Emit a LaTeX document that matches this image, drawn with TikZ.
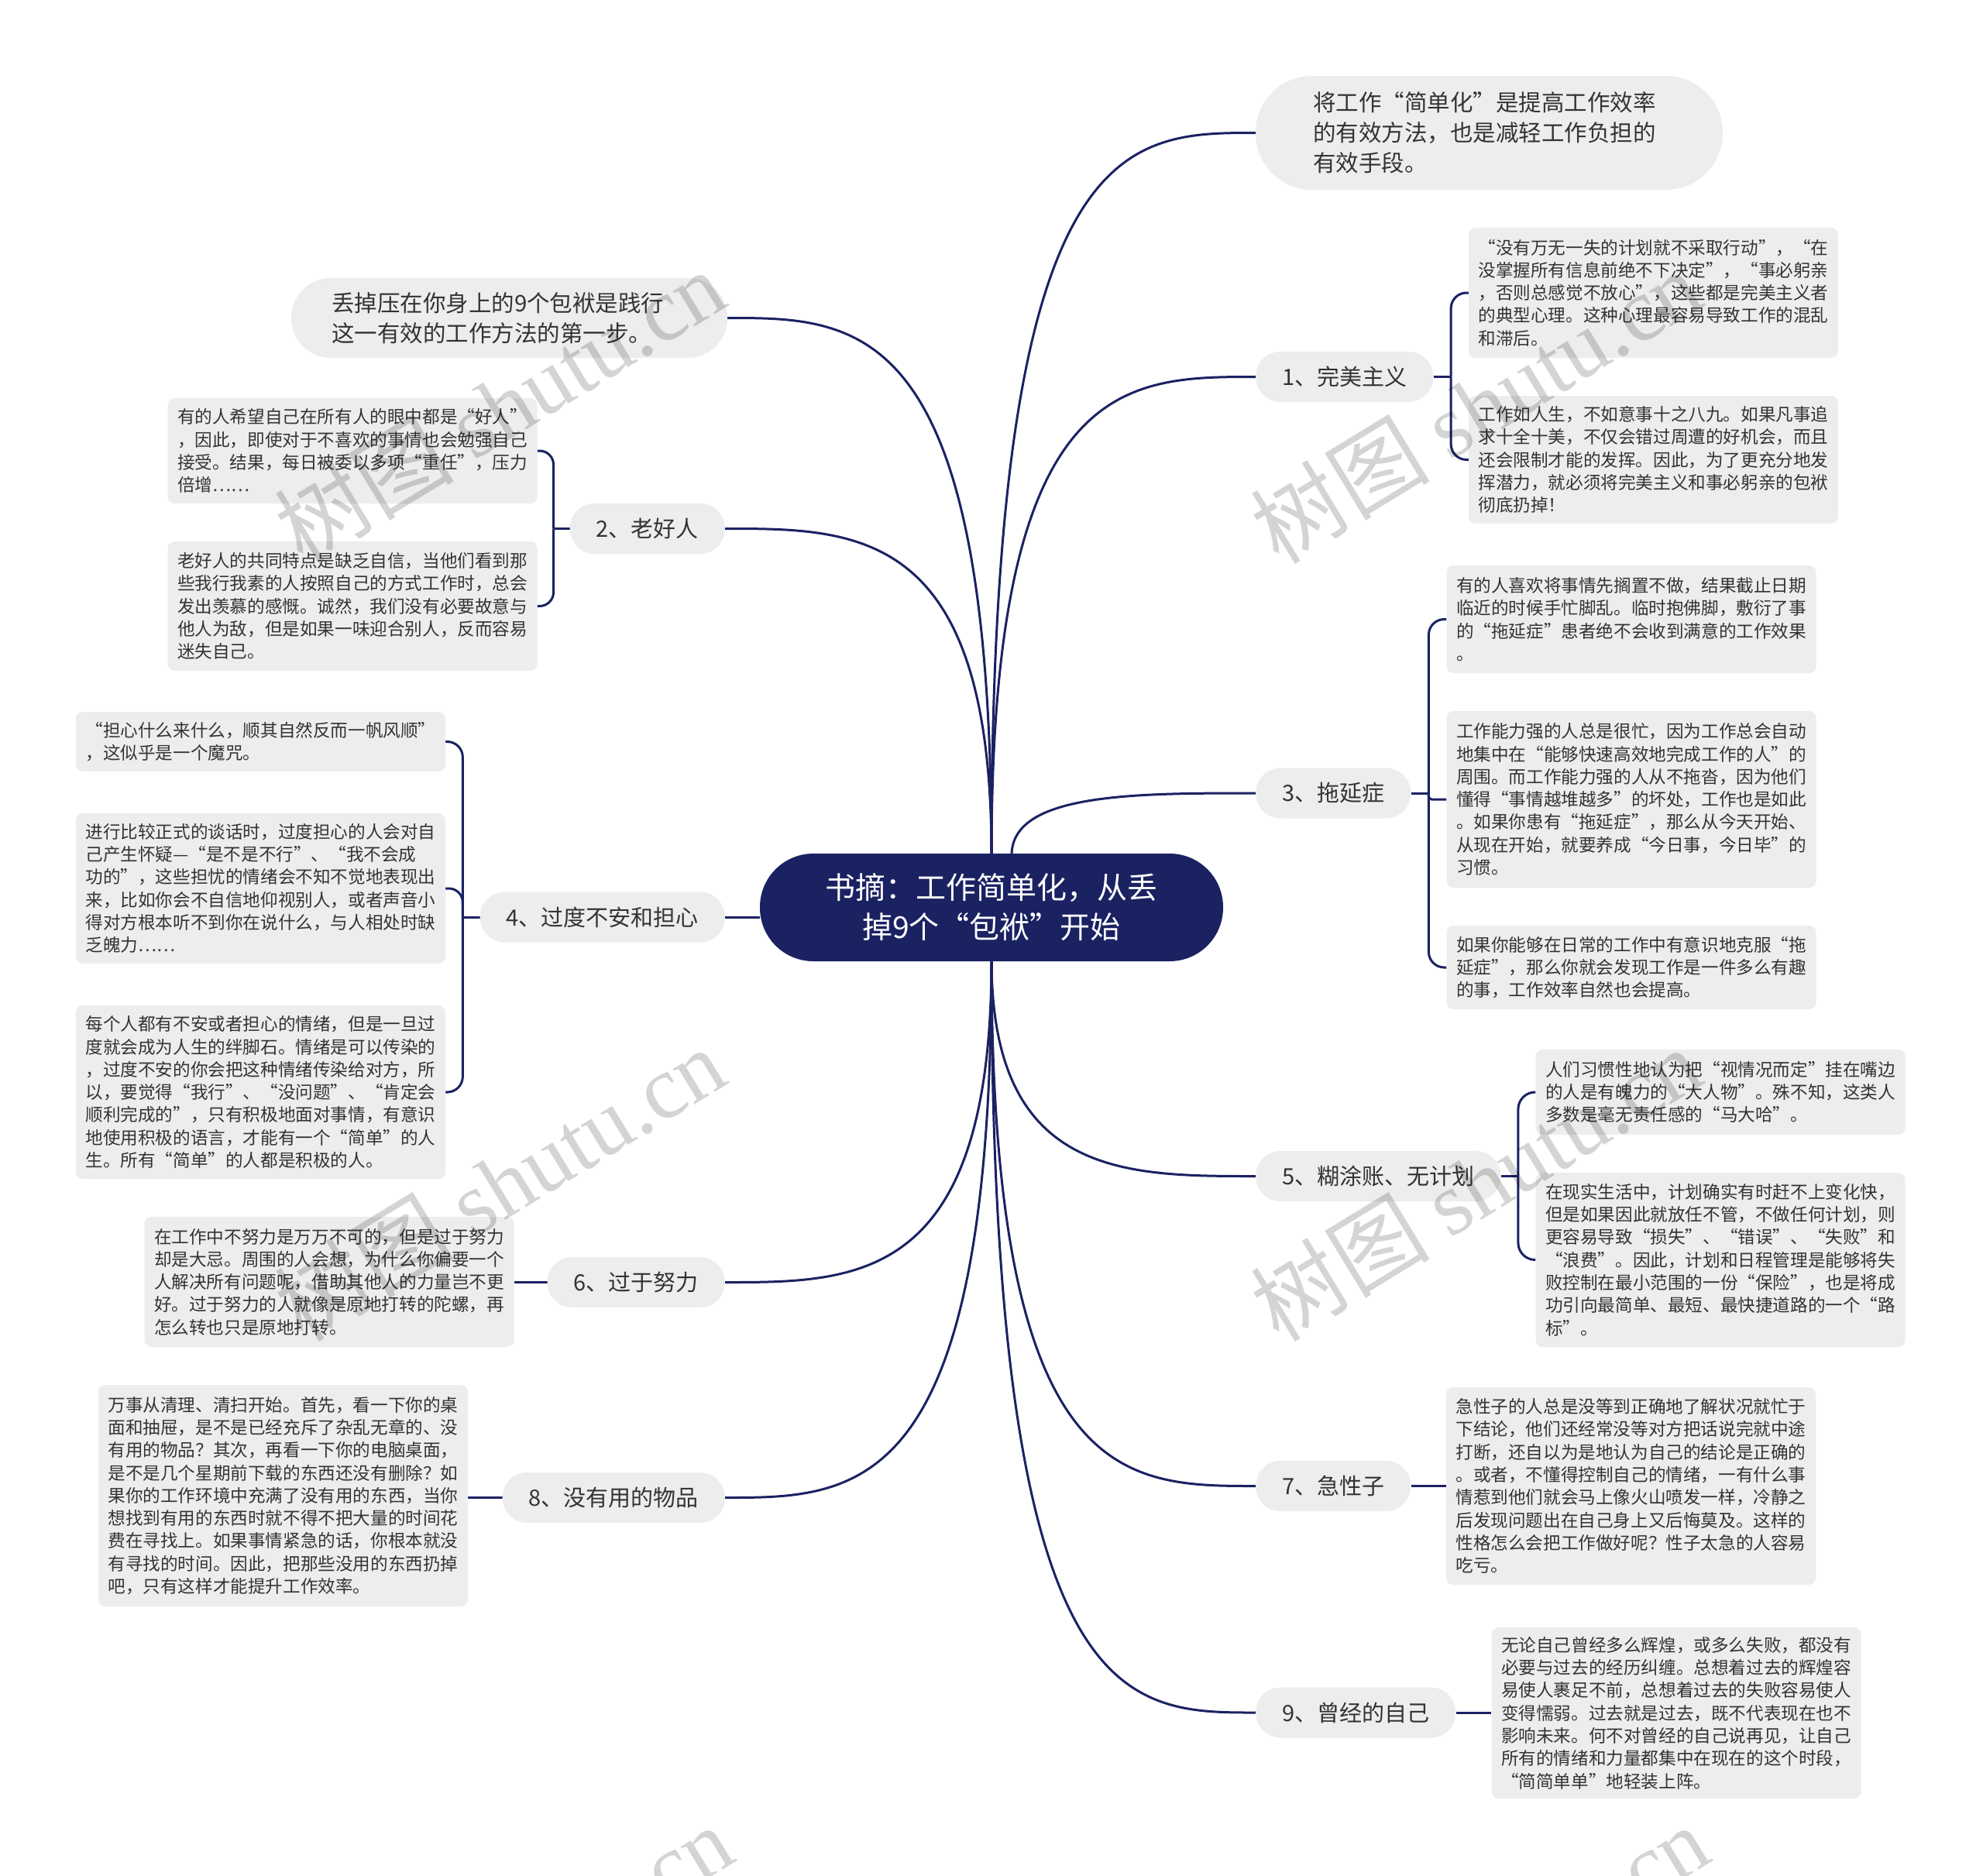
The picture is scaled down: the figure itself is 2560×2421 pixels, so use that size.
\documentclass[tikz,border=0pt]{standalone}
\usepackage{fontspec}
\setmainfont{Noto Sans CJK SC}
\newfontfamily\wmlatin{Liberation Serif}
\usetikzlibrary{calc,backgrounds}
\XeTeXlinebreaklocale "zh"
\XeTeXlinebreakskip=0pt plus 3pt
\XeTeXlinebreakpenalty=10000
\definecolor{navy}{HTML}{1B2262}
\definecolor{pill}{HTML}{EDEDED}
\definecolor{ink}{HTML}{333333}
\newcommand\mmleaffont{\fontsize{22.6pt}{29.3pt}\selectfont\parindent=0pt\relax}
\newcommand\mmbrfont{\fontsize{29pt}{36pt}\selectfont}
\newcommand\mmtpfont{\fontsize{29.5pt}{39pt}\selectfont}
\newcommand\mmrootfont{\fontsize{39pt}{51pt}\selectfont}
\tikzset{
  leaf/.style={fill=pill, rounded corners=9pt, text width=452pt, inner xsep=12.5pt, inner ysep=3pt, align=justify, font=\mmleaffont, text=ink},
  branch/.style={fill=pill, rounded corners=32pt, inner xsep=34pt, inner ysep=0pt, minimum height=65pt, font=\mmbrfont, text=ink},
  topic/.style={fill=pill, align=left, font=\mmtpfont, text=ink, inner ysep=0pt},
  conn/.style={draw=navy, line width=3pt},
  mm/.style={to path={.. controls (\tikztostart |- \tikztotarget) and ($(\tikztostart |- \tikztotarget)!0.5!(\tikztotarget)$) .. (\tikztotarget)}},
  wm/.style={rotate=31.4, text=black, text opacity=0.17, font=\fontsize{116pt}{116pt}\selectfont}
}
\begin{document}
\begin{tikzpicture}[x=1pt,y=-1pt]
\useasboundingbox (0,0) rectangle (2560,2421);

% root
\node[fill=navy, text=white, font=\mmrootfont, align=center, minimum width=598pt, minimum height=139pt, rounded corners=69pt, inner sep=0pt] (root) at (1280,1171.5) {书摘：工作简单化，从丢\\掉9个“包袱”开始};

% top topics
\node[topic, inner xsep=74pt, text width=455pt, minimum height=147pt, rounded corners=73pt] (tr) at (1922.5,171.5) {将工作“简单化”是提高工作效率\\的有效方法，也是减轻工作负担的\\有效手段。};
\node[topic, inner xsep=52pt, text width=459pt, minimum height=103pt, rounded corners=51pt] (tl) at (657.5,410.5) {丢掉压在你身上的9个包袱是践行\\这一有效的工作方法的第一步。};

% branches
\node[branch, anchor=west] (b1) at (1621,486.5) {1、完美主义};
\node[branch, anchor=east] (b2) at (936,682.5) {2、老好人};
\node[branch, anchor=west] (b3) at (1621,1024) {3、拖延症};
\node[branch, anchor=east] (b4) at (936,1184) {4、过度不安和担心};
\node[branch, anchor=west] (b5) at (1621,1518.5) {5、糊涂账、无计划};
\node[branch, anchor=east] (b6) at (936,1655.5) {6、过于努力};
\node[branch, anchor=west] (b7) at (1621,1918.5) {7、急性子};
\node[branch, anchor=east] (b8) at (936,1933.5) {8、没有用的物品};
\node[branch, anchor=west] (b9) at (1621,2211) {9、曾经的自己};

% leaves
\node[leaf, minimum height=168pt] (l1a) at (2134.5,378) {“没有万无一失的计划就不采取行动”，“在\linebreak
没掌握所有信息前绝不下决定”，“事必躬亲\linebreak
，否则总感觉不放心”，这些都是完美主义者\linebreak
的典型心理。这种心理最容易导致工作的混乱\linebreak
和滞后。};
\node[leaf, minimum height=165pt] (l1b) at (2134.5,593.5) {工作如人生，不如意事十之八九。如果凡事追\linebreak
求十全十美，不仅会错过周遭的好机会，而且\linebreak
还会限制才能的发挥。因此，为了更充分地发\linebreak
挥潜力，就必须将完美主义和事必躬亲的包袱\linebreak
彻底扔掉！};
\node[leaf, minimum height=136pt] (l2a) at (455,582) {有的人希望自己在所有人的眼中都是“好人”\linebreak
，因此，即使对于不喜欢的事情也会勉强自己\linebreak
接受。结果，每日被委以多项“重任”，压力\linebreak
倍增……};
\node[leaf, minimum height=167pt] (l2b) at (455,782.5) {老好人的共同特点是缺乏自信，当他们看到那\linebreak
些我行我素的人按照自己的方式工作时，总会\linebreak
发出羡慕的感慨。诚然，我们没有必要故意与\linebreak
他人为敌，但是如果一味迎合别人，反而容易\linebreak
迷失自己。};
\node[leaf, minimum height=139pt] (l3a) at (2106,799.5) {有的人喜欢将事情先搁置不做，结果截止日期\linebreak
临近的时候手忙脚乱。临时抱佛脚，敷衍了事\linebreak
的“拖延症”患者绝不会收到满意的工作效果\linebreak
。};
\node[leaf, minimum height=228pt] (l3b) at (2106,1032) {工作能力强的人总是很忙，因为工作总会自动\linebreak
地集中在“能够快速高效地完成工作的人”的\linebreak
周围。而工作能力强的人从不拖沓，因为他们\linebreak
懂得“事情越堆越多”的坏处，工作也是如此\linebreak
。如果你患有“拖延症”，那么从今天开始、\linebreak
从现在开始，就要养成“今日事，今日毕”的\linebreak
习惯。};
\node[leaf, minimum height=108pt] (l3c) at (2106,1249) {如果你能够在日常的工作中有意识地克服“拖\linebreak
延症”，那么你就会发现工作是一件多么有趣\linebreak
的事，工作效率自然也会提高。};
\node[leaf, minimum height=77pt] (l4a) at (336.5,957.5) {“担心什么来什么，顺其自然反而一帆风顺”\linebreak
，这似乎是一个魔咒。};
\node[leaf, minimum height=194pt] (l4b) at (336.5,1147) {进行比较正式的谈话时，过度担心的人会对自\linebreak
己产生怀疑—“是不是不行”、“我不会成\newline
功的”，这些担忧的情绪会不知不觉地表现出\linebreak
来，比如你会不自信地仰视别人，或者声音小\linebreak
得对方根本听不到你在说什么，与人相处时缺\linebreak
乏魄力……};
\node[leaf, minimum height=224pt] (l4c) at (336.5,1410) {每个人都有不安或者担心的情绪，但是一旦过\linebreak
度就会成为人生的绊脚石。情绪是可以传染的\linebreak
，过度不安的你会把这种情绪传染给对方，所\linebreak
以，要觉得“我行”、“没问题”、“肯定会\linebreak
顺利完成的”，只有积极地面对事情，有意识\linebreak
地使用积极的语言，才能有一个“简单”的人\linebreak
生。所有“简单”的人都是积极的人。};
\node[leaf, minimum height=110pt] (l5a) at (2221,1410) {人们习惯性地认为把“视情况而定”挂在嘴边\linebreak
的人是有魄力的“大人物”。殊不知，这类人\linebreak
多数是毫无责任感的“马大哈”。};
\node[leaf, minimum height=225pt] (l5b) at (2221,1626.5) {在现实生活中，计划确实有时赶不上变化快，\linebreak
但是如果因此就放任不管，不做任何计划，则\linebreak
更容易导致“损失”、“错误”、“失败”和\linebreak
“浪费”。因此，计划和日程管理是能够将失\linebreak
败控制在最小范围的一份“保险”，也是将成\linebreak
功引向最简单、最短、最快捷道路的一个“路\linebreak
标”。};
\node[leaf, minimum height=168pt] (l6) at (425,1655) {在工作中不努力是万万不可的，但是过于努力\linebreak
却是大忌。周围的人会想，为什么你偏要一个\linebreak
人解决所有问题呢，借助其他人的力量岂不更\linebreak
好。过于努力的人就像是原地打转的陀螺，再\linebreak
怎么转也只是原地打转。};
\node[leaf, minimum height=255pt] (l7) at (2105.5,1918.5) {急性子的人总是没等到正确地了解状况就忙于\linebreak
下结论，他们还经常没等对方把话说完就中途\linebreak
打断，还自以为是地认为自己的结论是正确的\linebreak
。或者，不懂得控制自己的情绪，一有什么事\linebreak
情惹到他们就会马上像火山喷发一样，冷静之\linebreak
后发现问题出在自己身上又后悔莫及。这样的\linebreak
性格怎么会把工作做好呢？性子太急的人容易\linebreak
吃亏。};
\node[leaf, minimum height=286pt] (l8) at (365.5,1931) {万事从清理、清扫开始。首先，看一下你的桌\linebreak
面和抽屉，是不是已经充斥了杂乱无章的、没\linebreak
有用的物品？其次，再看一下你的电脑桌面，\linebreak
是不是几个星期前下载的东西还没有删除？如\linebreak
果你的工作环境中充满了没有用的东西，当你\linebreak
想找到有用的东西时就不得不把大量的时间花\linebreak
费在寻找上。如果事情紧急的话，你根本就没\linebreak
有寻找的时间。因此，把那些没用的东西扔掉\linebreak
吧，只有这样才能提升工作效率。};
\node[leaf, minimum height=221pt] (l9) at (2164,2211.5) {无论自己曾经多么辉煌，或多么失败，都没有\linebreak
必要与过去的经历纠缠。总想着过去的辉煌容\linebreak
易使人裹足不前，总想着过去的失败容易使人\linebreak
变得懦弱。过去就是过去，既不代表现在也不\linebreak
影响未来。何不对曾经的自己说再见，让自己\linebreak
所有的情绪和力量都集中在现在的这个时段，\linebreak
“简简单单”地轻装上阵。};

% junctions and root anchors
\coordinate (rt) at (1280,1104);
\coordinate (rt3) at (1306,1104);
\coordinate (rb) at (1280,1239);
\coordinate (j1) at ($(b1.east)!0.5!(l1a.west |- b1.east)$);
\coordinate (j2) at ($(b2.west)!0.5!(l2a.east |- b2.west)$);
\coordinate (j3) at ($(b3.east)!0.5!(l3a.west |- b3.east)$);
\coordinate (j4) at ($(b4.west)!0.5!(l4a.east |- b4.west)$);
\coordinate (j5) at ($(b5.east)!0.5!(l5a.west |- b5.east)$);

\begin{pgfonlayer}{background}
\fill[white] (0,0) rectangle (2560,2421);
% root connectors
\draw[conn] (rt) to[mm] (tr.west);
\draw[conn] (rt) to[mm] (b1.west);
\draw[conn] (rt3) to[mm] (b3.west);
\draw[conn] (rt) to[mm] (tl.east);
\draw[conn] (rt) to[mm] (b2.east);
\draw[conn] (b4.east) -- (b4.east -| root.west);
\draw[conn] (rb) to[mm] (b5.west);
\draw[conn] (rb) to[mm] (b7.west);
\draw[conn] (rb) to[mm] (b9.west);
\draw[conn] (rb) to[mm] (b6.east);
\draw[conn] (rb) to[mm] (b8.east);
% brackets
\draw[conn] (b1.east) -- (j1);
\draw[conn, rounded corners=20pt] (j1) |- (l1a.west);
\draw[conn, rounded corners=20pt] (j1) |- (l1b.west);
\draw[conn] (b2.west) -- (j2);
\draw[conn, rounded corners=18pt] (j2) |- (l2a.east);
\draw[conn, rounded corners=18pt] (j2) |- (l2b.east);
\draw[conn] (b3.east) -- (j3);
\draw[conn, rounded corners=20pt] (j3) |- (l3a.west);
\draw[conn, rounded corners=4pt] (j3) |- (l3b.west);
\draw[conn, rounded corners=20pt] (j3) |- (l3c.west);
\draw[conn] (b4.west) -- (j4);
\draw[conn, rounded corners=20pt] (j4) |- (l4a.east);
\draw[conn, rounded corners=18pt] (j4) |- (l4b.east);
\draw[conn, rounded corners=20pt] (j4) |- (l4c.east);
\draw[conn] (b5.east) -- (j5);
\draw[conn, rounded corners=22pt] (j5) |- (l5a.west);
\draw[conn, rounded corners=22pt] (j5) |- (l5b.west);
% single leaves
\draw[conn] (b6.west) -- (l6.east |- b6.west);
\draw[conn] (b7.east) -- (l7.west |- b7.east);
\draw[conn] (b8.west) -- (l8.east |- b8.west);
\draw[conn] (b9.east) -- (l9.west |- b9.east);
\end{pgfonlayer}

% watermarks
\node[wm] (w1) at (645,524) {树图 {\wmlatin shutu.cn}};
\node[wm] (w2) at (1905,524) {树图 {\wmlatin shutu.cn}};
\node[wm] (w3) at (645,1528) {树图 {\wmlatin shutu.cn}};
\node[wm] (w4) at (1905,1528) {树图 {\wmlatin shutu.cn}};
\node[wm] (w5) at (655,2532) {树图 {\wmlatin shutu.cn}};
\node[wm] (w6) at (1915,2532) {树图 {\wmlatin shutu.cn}};
\end{tikzpicture}
\end{document}
